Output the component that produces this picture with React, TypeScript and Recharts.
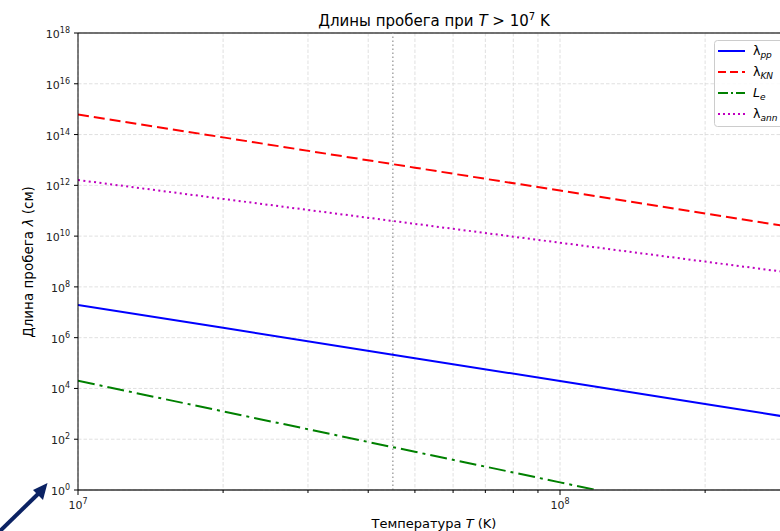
import React from 'react';
import { LineChart, Line, XAxis, YAxis, CartesianGrid, ReferenceLine } from 'recharts';

const temperatures = [1e7, 2e7, 5e7, 1e8, 2e8, 3e8];
// Mean free paths (cm)
const lambdaPP = [1.95e7, 2.44e6, 1.56e5, 1.95e4, 2.44e3, 7.2e2];
const lambdaKN = [6.2e14, 7.75e13, 4.96e12, 6.2e11, 7.75e10, 2.3e10];
const lambdaAnn = [1.62e12, 2.92e11, 3.04e10, 5.49e9, 9.9e8, 3.64e8];
const leTemperatures = [1e7, 2e7, 5e7, 1e8, 1.19e8];
const leValues = [2e4, 1.25e3, 32, 2.0, 1.0];

const xTicks = [1e7, 2e7, 3e7, 4e7, 5e7, 6e7, 7e7, 8e7, 9e7, 1e8, 2e8, 3e8];
const xMajorTicks = [1e7, 1e8];
const yTicks = [1, 1e2, 1e4, 1e6, 1e8, 1e10, 1e12, 1e14, 1e16, 1e18];
const markerTemperature = 4.5e7;

const xDomain = [1e7, 3e8];
const yDomain = [1, 1e18];

const FONT = '"DejaVu Sans", sans-serif';

const ppData = temperatures.map((T, i) => ({ T, v: lambdaPP[i] }));
const knData = temperatures.map((T, i) => ({ T, v: lambdaKN[i] }));
const annData = temperatures.map((T, i) => ({ T, v: lambdaAnn[i] }));
const leData = leTemperatures.map((T, i) => ({ T, v: leValues[i] }));

const expOf = (v: number) => Math.round(Math.log10(v));

const XTick = (props: any) => {
  const { x, y, payload } = props;
  const major = xMajorTicks.some((m) => Math.abs(m - payload.value) / m < 1e-6);
  return (
    <g>
      <line x1={x} x2={x} y1={y} y2={y + (major ? 5 : 3)} stroke="#000" strokeWidth={1} />
      {major && (
        <text x={x} y={y + 19} textAnchor="middle" fontFamily={FONT} fontSize={11} fill="#222">
          10<tspan dy={-5} fontSize={8}>{expOf(payload.value)}</tspan>
        </text>
      )}
    </g>
  );
};

const YTick = (props: any) => {
  const { x, y, payload } = props;
  return (
    <g>
      <line x1={x} x2={x - 4} y1={y} y2={y} stroke="#000" strokeWidth={1} />
      <text x={x - 8} y={y + 5} textAnchor="end" fontFamily={FONT} fontSize={11} fill="#222">
        10<tspan dy={-5} fontSize={8}>{expOf(payload.value)}</tspan>
      </text>
    </g>
  );
};

const legendItems = [
  { color: '#0000ff', dash: undefined as string | undefined, main: 'λ', sub: 'pp', italicMain: false },
  { color: '#ff0000', dash: '8 4', main: 'λ', sub: 'KN', italicMain: false },
  { color: '#008000', dash: '10 3 2 3', main: 'L', sub: 'e', italicMain: true },
  { color: '#bf00bf', dash: '2 3', main: 'λ', sub: 'ann', italicMain: false },
];

export default function App() {
  return (
    <div style={{ position: 'absolute', left: 0, top: 0, width: 780, height: 531, overflow: 'hidden', background: '#fff' }}>
      <LineChart width={830} height={531} margin={{ top: 33, right: 40, bottom: 0, left: 0 }}>
        <CartesianGrid stroke="#d8d8d8" strokeDasharray="3.5 2" strokeWidth={0.8} />
        <XAxis
          dataKey="T"
          type="number"
          scale="log"
          domain={xDomain}
          allowDataOverflow
          ticks={xTicks}
          interval={0}
          tick={<XTick />}
          tickSize={0}
          tickMargin={0}
          tickLine={false}
          height={41}
          axisLine={{ stroke: '#333', strokeWidth: 1.3 }}
        />
        <YAxis
          type="number"
          scale="log"
          domain={yDomain}
          allowDataOverflow
          ticks={yTicks}
          interval={0}
          tick={<YTick />}
          tickSize={0}
          tickMargin={0}
          tickLine={false}
          width={78}
          axisLine={{ stroke: '#000', strokeWidth: 1 }}
        />
        <ReferenceLine y={1e18} stroke="#444" strokeWidth={1.3} />
        <ReferenceLine x={markerTemperature} stroke="#999" strokeWidth={1.3} strokeDasharray="1.5 2.5" />
        <Line data={ppData} dataKey="v" type="linear" stroke="#0000ff" strokeWidth={2} dot={false} isAnimationActive={false} />
        <Line data={knData} dataKey="v" type="linear" stroke="#ff0000" strokeWidth={2} strokeDasharray="11 5" dot={false} isAnimationActive={false} />
        <Line data={leData} dataKey="v" type="linear" stroke="#008000" strokeWidth={2} strokeDasharray="17 5 3 5" dot={false} isAnimationActive={false} />
        <Line data={annData} dataKey="v" type="linear" stroke="#bf00bf" strokeWidth={2} strokeDasharray="2 3.4" dot={false} isAnimationActive={false} />
      </LineChart>
      <svg width={780} height={531} style={{ position: 'absolute', left: 0, top: 0, pointerEvents: 'none' }}>
        <text x={434} y={26} textAnchor="middle" fontFamily={FONT} fontSize={15} fill="#000">
          Длины пробега при <tspan fontStyle="italic">T</tspan> {'>'} 10<tspan dy={-6} fontSize={10}>7</tspan><tspan dy={6}> K</tspan>
        </text>
        <text x={434} y={528} textAnchor="middle" fontFamily={FONT} fontSize={13} fill="#000">
          Температура <tspan fontStyle="italic">T</tspan> (K)
        </text>
        <text
          x={33}
          y={262}
          textAnchor="middle"
          fontFamily={FONT}
          fontSize={13.5}
          fill="#000"
          transform="rotate(-90 33 262)"
        >
          Длина пробега <tspan fontStyle="italic">λ</tspan> (см)
        </text>
        <rect x={714.5} y={40.5} width={80} height={86} rx={3} fill="#fff" fillOpacity={0.85} stroke="#cccccc" strokeWidth={1} />
        {legendItems.map((it, i) => {
          const cy = 51 + i * 21;
          return (
            <g key={i}>
              <line x1={718} x2={745} y1={cy} y2={cy} stroke={it.color} strokeWidth={2} strokeDasharray={it.dash} />
              <text x={753} y={cy + 4} fontFamily={FONT} fontSize={12.5} fill="#000">
                <tspan fontStyle={it.italicMain ? 'italic' : 'normal'}>{it.main}</tspan>
                <tspan dy={3} fontSize={9} fontStyle="italic">{it.sub}</tspan>
              </text>
            </g>
          );
        })}
        <line x1={-2} y1={533} x2={38} y2={494} stroke="#0b2263" strokeWidth={4} />
        <polygon points="47.5,483 33,490 43,500" fill="#0b2263" />
      </svg>
    </div>
  );
}
